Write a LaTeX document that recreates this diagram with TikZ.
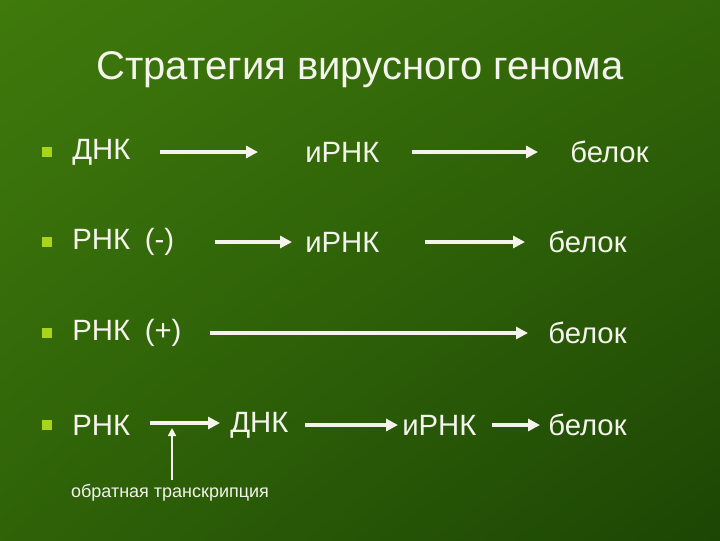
\documentclass[tikz,border=0pt]{standalone}
\usepackage{fontspec}
\setmainfont{Liberation Sans}
\usetikzlibrary{arrows.meta,shadings}
\definecolor{bgA}{HTML}{3F7A0C}
\definecolor{bgB}{HTML}{1C4604}
\colorlet{bgC}{bgA!60!bgB}
\colorlet{bgD}{bgA!55!bgB}
\definecolor{lime}{HTML}{A8D41A}
\definecolor{tx}{HTML}{F4F4EC}
\begin{document}
\begin{tikzpicture}[x=0.75pt,y=-0.75pt,
  t/.style={text=tx,font=\fontsize{22}{24}\selectfont,inner sep=0pt,anchor=west},
  ar/.style={draw=tx,line width=2.6pt,-{Triangle[length=9pt,width=9pt]}},
  bul/.style={fill=lime,minimum size=7pt,inner sep=0pt}]
\shade[upper left=bgA,upper right=bgC,lower left=bgD,lower right=bgB] (0,0) rectangle (720,540);
\useasboundingbox (0,0) rectangle (720,540);
\node[text=tx,font=\fontsize{30}{34}\selectfont] (title) at (360,70) {Стратегия вирусного генома};
% bullets
\foreach \y/\n in {152/b1,242/b2,333/b3,425/b4} \node[bul] (\n) at (47,\y) {};
% row1
\node[t] (d1) at (72,152) {ДНК};
\node[t] (m1) at (305,152) {иРНК};
\node[t] (p1) at (570,152) {белок};
\draw[ar] (160,152) -- (258,152);
\draw[ar] (412,152) -- (538,152);
% row2
\node[t] (r2) at (72,242) {РНК\enspace(-)};
\node[t] (m2) at (305,242) {иРНК};
\node[t] (p2) at (548,242) {белок};
\draw[ar] (215,242) -- (292,242);
\draw[ar] (425,242) -- (525,242);
% row3
\node[t] (r3) at (72,333) {РНК\enspace(+)};
\node[t] (p3) at (548,333) {белок};
\draw[ar] (210,333) -- (528,333);
% row4
\node[t] (r4) at (72,425) {РНК};
\node[t] (d4) at (230,425) {ДНК};
\node[t] (m4) at (402,425) {иРНК};
\node[t] (p4) at (548,425) {белок};
\draw[ar] (150,423) -- (220,423);
\draw[ar] (305,425) -- (398,425);
\draw[ar] (492,425) -- (540,425);
\node[text=tx,font=\fontsize{13.5}{15}\selectfont] (rt) at (170,493) {обратная транскрипция};
\draw[draw=tx,line width=1.2pt,-{Triangle[length=6pt,width=6pt]}] (172,480) -- (172,428);
\end{tikzpicture}
\end{document}
